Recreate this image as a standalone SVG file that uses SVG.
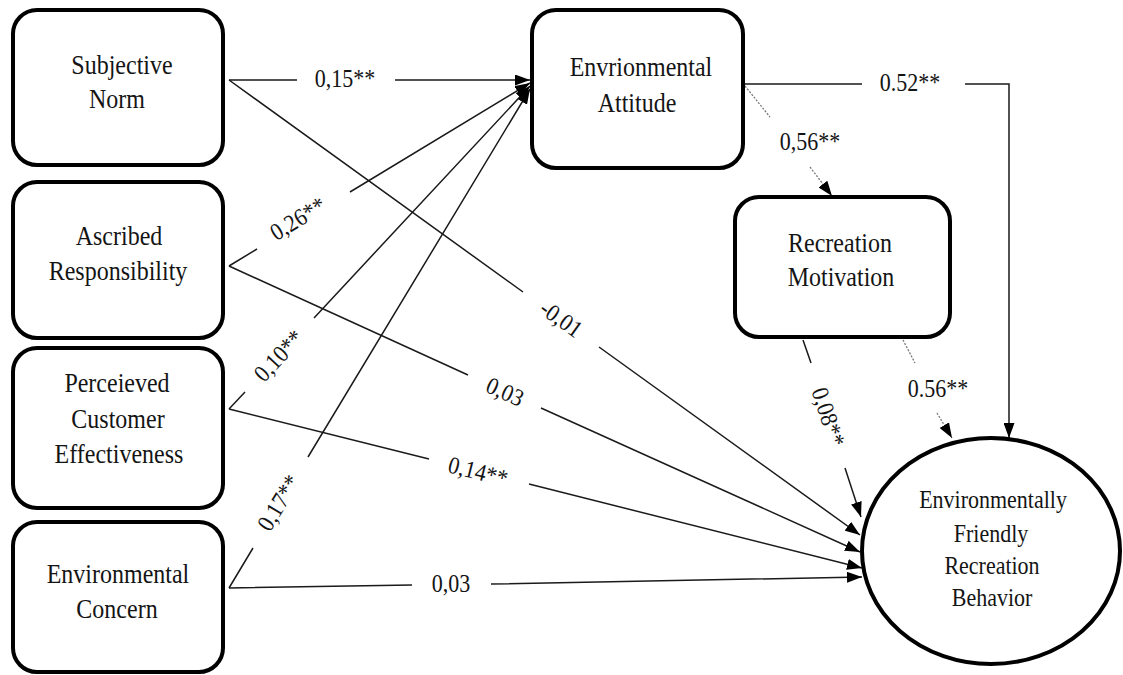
<svg xmlns="http://www.w3.org/2000/svg" width="1123" height="675" viewBox="0 0 1123 675">
<style>
.box{fill:#fff;stroke:#000;stroke-width:4}
text{font-family:'Liberation Serif','DejaVu Serif',serif;fill:#141414;text-anchor:middle}
.n{font-size:24px}
.nc{font-size:22px}
.l{font-size:22px}
.c{fill:none;stroke:#1a1a1a;stroke-width:1.5}
.d{fill:none;stroke:#777;stroke-width:1.3;stroke-dasharray:2 1.5}
</style>
<defs>
<marker id="ah" viewBox="0 0 15 11" refX="15" refY="5.5" markerWidth="15" markerHeight="11" markerUnits="userSpaceOnUse" orient="auto">
<path d="M0,0 L15,5.5 L0,11 z" fill="#000"/>
</marker>
</defs>
<rect width="1123" height="675" fill="#fff"/>
<g id="connectors">
<path class="c" d="M229,80 L297,80 M395,80 L530,80" marker-end="url(#ah)"/>
<path class="c" d="M229,266 L257,249 M350,192 L530,83" marker-end="url(#ah)"/>
<path class="c" d="M229,409 L245,392 M314,318 L530,86" marker-end="url(#ah)"/>
<path class="c" d="M229,588 L253,548 M308,457 L530,89" marker-end="url(#ah)"/>
<path class="c" d="M229,80 L523,292 M599,347 L860,535" marker-end="url(#ah)"/>
<path class="c" d="M229,266 L468,375 M541,408 L860,552" marker-end="url(#ah)"/>
<path class="c" d="M229,409 L429,459 M529,484 L862,568" marker-end="url(#ah)"/>
<path class="c" d="M229,588 L412,585 M491,584 L862,577" marker-end="url(#ah)"/>
<path class="d" d="M745,86 L770,117 M810,167 L832,196" marker-end="url(#ah)"/>
<path class="c" d="M745,84 L862,84 M965,84 L1009,84 L1009,438" marker-end="url(#ah)"/>
<path class="c" d="M803,340 L811,363 M845,468 L861,517" marker-end="url(#ah)"/>
<path class="d" d="M903,340 L915,363 M937,413 L952,438" marker-end="url(#ah)"/>
<text class="l" transform="translate(345,87) scale(1,1.1)">0,15**</text>
<text class="l" transform="translate(298,219) rotate(-31.3) scale(1,1.1)" y="7">0,26**</text>
<text class="l" transform="translate(279,356) rotate(-47) scale(1,1.1)" y="7">0,10**</text>
<text class="l" transform="translate(279,503) rotate(-58.9) scale(1,1.1)" y="7">0,17**</text>
<text class="l" transform="translate(561,319) rotate(35.6) scale(1,1.1)" y="7">-0,01</text>
<text class="l" transform="translate(505,392) rotate(24.2) scale(1,1.1)" y="7">0,03</text>
<text class="l" transform="translate(478,472) rotate(14.1) scale(1,1.1)" y="7">0,14**</text>
<text class="l" transform="translate(451,584) scale(1,1.1)" y="7">0,03</text>
<text class="l" transform="translate(810,150) scale(1,1.1)">0,56**</text>
<text class="l" transform="translate(910,91) scale(1,1.1)">0.52**</text>
<text class="l" transform="translate(828,417) rotate(71.7) scale(1,1.1)" y="7">0,08**</text>
<text class="l" transform="translate(938,397) scale(1,1.1)">0.56**</text>
</g>
<g id="subjective-norm">
<rect class="box" x="13" y="10" width="210" height="155" rx="24"/>
<text class="n" transform="translate(122,74) scale(1,1.1)">Subjective</text>
<text class="n" transform="translate(117,108) scale(1,1.1)">Norm</text>
</g>
<g id="ascribed-responsibility">
<rect class="box" x="13" y="182" width="210" height="156" rx="24"/>
<text class="n" transform="translate(119,245) scale(1,1.1)">Ascribed</text>
<text class="n" transform="translate(118,280) scale(1,1.1)">Responsibility</text>
</g>
<g id="perceived-customer-effectiveness">
<rect class="box" x="13" y="348" width="210" height="160" rx="24"/>
<text class="n" transform="translate(117,392) scale(1,1.1)">Perceieved</text>
<text class="n" transform="translate(118,428) scale(1,1.1)">Customer</text>
<text class="n" transform="translate(119,463) scale(1,1.1)">Effectiveness</text>
</g>
<g id="environmental-concern">
<rect class="box" x="13" y="522" width="210" height="150" rx="24"/>
<text class="n" transform="translate(118,583) scale(1,1.1)">Environmental</text>
<text class="n" transform="translate(117,618) scale(1,1.1)">Concern</text>
</g>
<g id="environmental-attitude">
<rect class="box" x="532" y="10" width="211" height="158" rx="24"/>
<text class="n" transform="translate(641,76) scale(1,1.1)">Envrionmental</text>
<text class="n" transform="translate(637,112) scale(1,1.1)">Attitude</text>
</g>
<g id="recreation-motivation">
<rect class="box" x="735" y="197" width="215" height="140" rx="24"/>
<text class="n" transform="translate(840,252) scale(1,1.1)">Recreation</text>
<text class="n" transform="translate(841,286) scale(1,1.1)">Motivation</text>
</g>
<g id="behavior">
<ellipse class="box" cx="991" cy="551" rx="129" ry="113"/>
<text class="nc" transform="translate(993,508) scale(1,1.15)">Environmentally</text>
<text class="nc" transform="translate(991,542) scale(1,1.15)">Friendly</text>
<text class="nc" transform="translate(992,574) scale(1,1.15)">Recreation</text>
<text class="nc" transform="translate(992,606) scale(1,1.15)">Behavior</text>
</g>
</svg>
